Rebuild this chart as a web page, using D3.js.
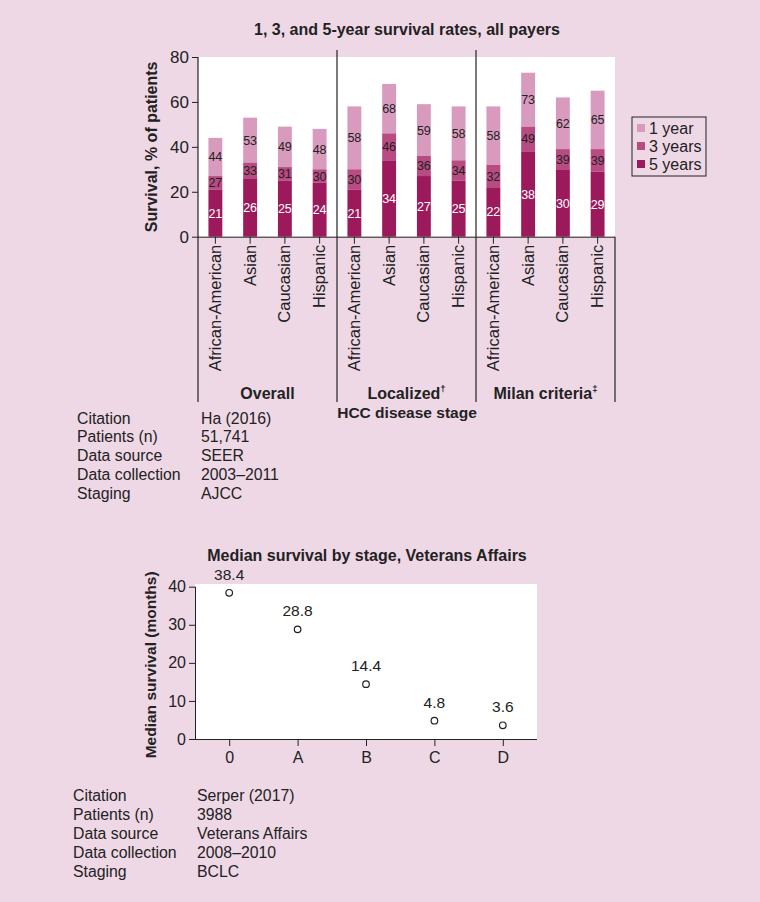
<!DOCTYPE html>
<html><head><meta charset="utf-8">
<script src="https://cdn.jsdelivr.net/npm/d3@7"></script>
<style>
html,body{margin:0;padding:0;background:#efd8e6;}
svg{display:block;font-family:"Liberation Sans",Arial,Helvetica,sans-serif;}
</style></head>
<body>
<svg id="chart" width="760" height="902"></svg>
<script>
// ---------- Data ----------
const groups = ["Overall", "Localized", "Milan criteria"];
const groupMarks = ["", "†", "‡"];
const races = ["African-American", "Asian", "Caucasian", "Hispanic"];
const year1 = [44, 53, 49, 48, 58, 68, 59, 58, 58, 73, 62, 65];
const year3 = [27, 33, 31, 30, 30, 46, 36, 34, 32, 49, 39, 39];
const year5 = [21, 26, 25, 24, 21, 34, 27, 25, 22, 38, 30, 29];
const seriesNames = ["1 year", "3 years", "5 years"];
const yTicksTop = [0, 20, 40, 60, 80];

const stages = ["0", "A", "B", "C", "D"];
const medianSurvival = [38.4, 28.8, 14.4, 4.8, 3.6];
const yTicksBottom = [0, 10, 20, 30, 40];

const info1Keys = ["Citation", "Patients (n)", "Data source", "Data collection", "Staging"];
const info1Vals = ["Ha (2016)", "51,741", "SEER", "2003–2011", "AJCC"];
const info2Keys = ["Citation", "Patients (n)", "Data source", "Data collection", "Staging"];
const info2Vals = ["Serper (2017)", "3988", "Veterans Affairs", "2008–2010", "BCLC"];

// ---------- Styles ----------
const col1 = "#d99bbd", col3 = "#b84c82", col5 = "#9c1a5b";
const ink = "#222";
const FF = "Liberation Sans, Arial, sans-serif";
const svg = d3.select("#chart");

// ---------- Top chart ----------
const cats = [];
groups.forEach((g, gi) => races.forEach((r, ri) => cats.push(gi + "|" + r)));
const T = {left: 198, right: 615, top: 57, bottom: 236.7};
const x = d3.scaleBand().domain(cats).range([T.left, T.right]).paddingInner(0.6).paddingOuter(0.3);
const y = d3.scaleLinear().domain([0, 80]).range([T.bottom, T.top]);

svg.append("text").attr("x", 407).attr("y", 35).attr("text-anchor", "middle")
  .attr("font-size", 16).attr("font-weight", "bold").attr("fill", ink)
  .text("1, 3, and 5-year survival rates, all payers");

svg.append("rect").attr("x", T.left).attr("y", T.top).attr("width", T.right - T.left)
  .attr("height", T.bottom - T.top).attr("fill", "#fff");

const bars = cats.map((c, i) => ({c, v1: year1[i], v3: year3[i], v5: year5[i]}));
const gb = svg.append("g");
const bw = x.bandwidth();
gb.selectAll(".b1").data(bars).join("rect").attr("x", d => x(d.c)).attr("width", bw)
  .attr("y", d => y(d.v1)).attr("height", d => y(d.v3) - y(d.v1)).attr("fill", col1);
gb.selectAll(".b3").data(bars).join("rect").attr("x", d => x(d.c)).attr("width", bw)
  .attr("y", d => y(d.v3)).attr("height", d => y(d.v5) - y(d.v3)).attr("fill", col3);
gb.selectAll(".b5").data(bars).join("rect").attr("x", d => x(d.c)).attr("width", bw)
  .attr("y", d => y(d.v5)).attr("height", d => y(0) - y(d.v5)).attr("fill", col5);

const lab = svg.append("g").attr("font-size", 12.5).attr("text-anchor", "middle");
lab.selectAll(".l1").data(bars).join("text").attr("x", d => x(d.c) + bw / 2)
  .attr("y", d => (y(d.v1) + y(d.v3)) / 2).attr("dy", "0.36em").attr("fill", ink).text(d => d.v1);
lab.selectAll(".l3").data(bars).join("text").attr("x", d => x(d.c) + bw / 2)
  .attr("y", d => (y(d.v3) + y(d.v5)) / 2).attr("dy", "0.36em").attr("fill", ink).text(d => d.v3);
lab.selectAll(".l5").data(bars).join("text").attr("x", d => x(d.c) + bw / 2)
  .attr("y", d => (y(d.v5) + y(0)) / 2).attr("dy", "0.36em").attr("fill", "#fff").text(d => d.v5);

// y axis
const yAx = svg.append("g").attr("transform", `translate(${T.left},0)`)
  .call(d3.axisLeft(y).tickValues(yTicksTop).tickSize(6).tickPadding(3));
yAx.select(".domain").remove();
yAx.selectAll("text").attr("font-size", 17).attr("fill", ink).attr("font-family", FF);
yAx.selectAll("line").attr("stroke", ink);

svg.append("text").attr("transform", `translate(157,${(T.top + T.bottom) / 2}) rotate(-90)`)
  .attr("text-anchor", "middle").attr("font-size", 16).attr("font-weight", "bold").attr("fill", ink)
  .text("Survival, % of patients");

// x axis
const xAx = svg.append("g").attr("transform", `translate(0,${T.bottom})`)
  .call(d3.axisBottom(x).tickSize(7).tickFormat(() => ""));
xAx.select(".domain").attr("d", `M${T.left},0.5H${T.right}`).attr("stroke", ink);
xAx.selectAll("line").attr("stroke", ink);

svg.append("g").selectAll("text").data(cats).join("text")
  .attr("transform", d => `translate(${x(d) + bw / 2 + 5.5},${T.bottom + 8}) rotate(-90)`)
  .attr("text-anchor", "end").attr("font-size", 16.5).attr("fill", ink)
  .text(d => d.split("|")[1]);

// separators
const sepX = [T.left, x(cats[4]) - x.step() * x.paddingInner() / 2, x(cats[8]) - x.step() * x.paddingInner() / 2, T.right];
const sepTop = [T.top, 50, 50, T.bottom];
sepX.forEach((sx, i) => {
  svg.append("line").attr("x1", sx).attr("x2", sx).attr("y1", sepTop[i]).attr("y2", 402)
    .attr("stroke", ink).attr("stroke-width", 1.2);
});
groups.forEach((g, gi) => {
  const cx = (sepX[gi] + sepX[gi + 1]) / 2;
  const t = svg.append("text").attr("x", cx).attr("y", 399).attr("text-anchor", "middle")
    .attr("font-size", 16).attr("font-weight", "bold").attr("fill", ink).text(g);
  if (groupMarks[gi]) t.append("tspan").attr("font-size", 9.5).attr("dy", -7).text(groupMarks[gi]);
});
svg.append("text").attr("x", 407).attr("y", 418).attr("text-anchor", "middle")
  .attr("font-size", 15.5).attr("font-weight", "bold").attr("fill", ink).text("HCC disease stage");

// legend
const lg = svg.append("g").attr("transform", "translate(632,117)");
lg.append("rect").attr("width", 74).attr("height", 59).attr("fill", "none").attr("stroke", ink).attr("stroke-width", 1);
const lcols = [col1, col3, col5];
seriesNames.forEach((s, i) => {
  lg.append("rect").attr("x", 5).attr("y", 7 + i * 18).attr("width", 8).attr("height", 8).attr("fill", lcols[i]);
  lg.append("text").attr("x", 17).attr("y", 11 + i * 18).attr("dy", "0.36em").attr("font-size", 16)
    .attr("fill", ink).text(s);
});

// info table 1
const it1 = svg.append("g").attr("font-size", 15.8).attr("fill", ink);
info1Keys.forEach((k, i) => {
  it1.append("text").attr("x", 77).attr("y", 418 + i * 18.8).attr("dy", "0.36em").text(k);
  it1.append("text").attr("x", 201).attr("y", 418 + i * 18.8).attr("dy", "0.36em").text(info1Vals[i]);
});

// ---------- Bottom chart ----------
const B = {left: 195, right: 537, top: 584, bottom: 739};
const x2 = d3.scalePoint().domain(stages).range([B.left, B.right]).padding(0.5);
const y2 = d3.scaleLinear().domain([0, 40]).range([B.bottom, 586.7]);

svg.append("text").attr("x", 367).attr("y", 561).attr("text-anchor", "middle")
  .attr("font-size", 16).attr("font-weight", "bold").attr("fill", ink)
  .text("Median survival by stage, Veterans Affairs");

svg.append("rect").attr("x", B.left).attr("y", B.top).attr("width", B.right - B.left)
  .attr("height", B.bottom - B.top).attr("fill", "#fff");

const yAx2 = svg.append("g").attr("transform", `translate(${B.left},0)`)
  .call(d3.axisLeft(y2).tickValues(yTicksBottom).tickSize(6).tickPadding(3));
yAx2.select(".domain").attr("d", `M0.5,${B.bottom}V${y2(40)}`).attr("stroke", ink);
yAx2.selectAll("text").attr("font-size", 16).attr("fill", ink).attr("font-family", FF);
yAx2.selectAll("line").attr("stroke", ink);

const xAx2 = svg.append("g").attr("transform", `translate(0,${B.bottom})`)
  .call(d3.axisBottom(x2).tickSize(7).tickPadding(6));
xAx2.select(".domain").attr("d", `M${B.left},0.5H${B.right}`).attr("stroke", ink);
xAx2.selectAll("text").attr("font-size", 16).attr("fill", ink).attr("font-family", FF);
xAx2.selectAll("line").attr("stroke", ink);

svg.append("text").attr("transform", `translate(156,${(y2(40) + B.bottom) / 2 + 2}) rotate(-90)`)
  .attr("text-anchor", "middle").attr("font-size", 15.5).attr("font-weight", "bold").attr("fill", ink)
  .text("Median survival (months)");

const pts = stages.map((s, i) => ({s, v: medianSurvival[i]}));
svg.append("g").selectAll("circle").data(pts).join("circle")
  .attr("cx", d => x2(d.s)).attr("cy", d => y2(d.v)).attr("r", 3.3)
  .attr("fill", "#fff").attr("stroke", ink).attr("stroke-width", 1.2);
svg.append("g").selectAll("text").data(pts).join("text")
  .attr("x", d => x2(d.s)).attr("y", d => y2(d.v) - 13).attr("text-anchor", "middle")
  .attr("font-size", 15.5).attr("fill", ink).text(d => d.v.toFixed(1));

const it2 = svg.append("g").attr("font-size", 15.8).attr("fill", ink);
info2Keys.forEach((k, i) => {
  it2.append("text").attr("x", 73).attr("y", 795 + i * 19).attr("dy", "0.36em").text(k);
  it2.append("text").attr("x", 197).attr("y", 795 + i * 19).attr("dy", "0.36em").text(info2Vals[i]);
});
</script>
</body></html>
